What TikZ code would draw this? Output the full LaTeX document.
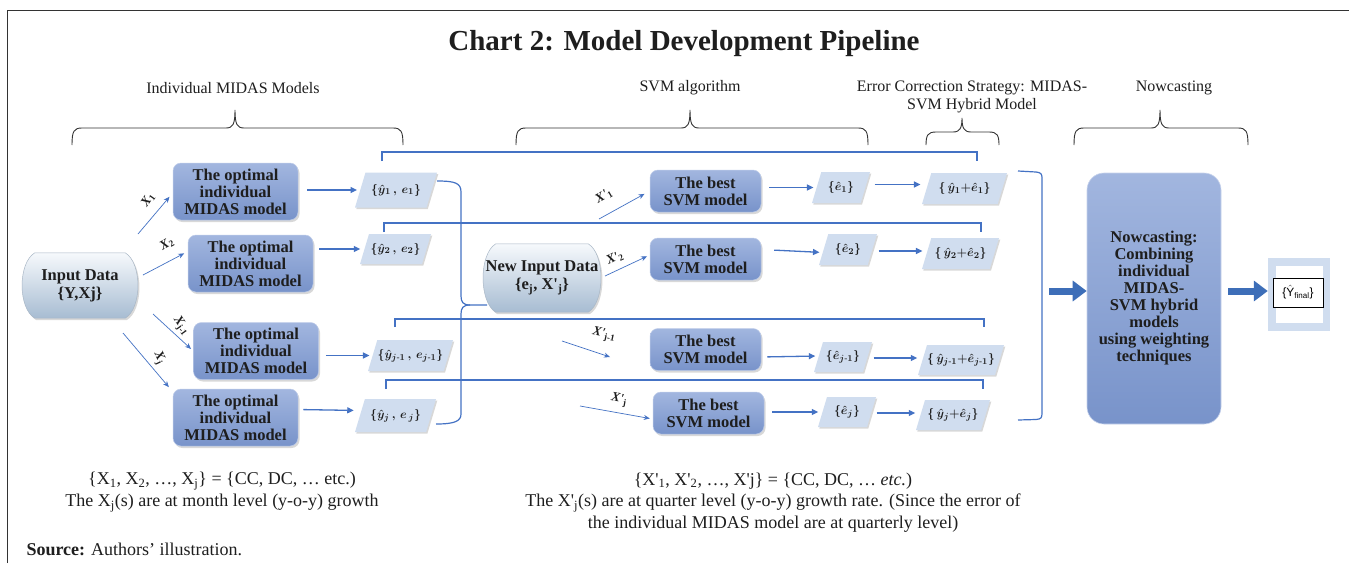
\documentclass[tikz,border=0pt]{standalone}
\usepackage{fontspec}
\setmainfont{Liberation Serif}
\setsansfont{Liberation Sans}
\usepackage{amsmath}
\usetikzlibrary{shadows,arrows.meta,calc,backgrounds}
\definecolor{lnblue}{HTML}{4472C4}
\definecolor{arrblue}{HTML}{3D6EB8}
\definecolor{paracol}{HTML}{D0DDEF}
\definecolor{boxtop}{HTML}{A2B6DF}
\definecolor{boxbot}{HTML}{7893CA}
\definecolor{txtc}{HTML}{1E1E1E}
\definecolor{framec}{HTML}{333333}
\definecolor{inptop}{HTML}{F6F9FC}
\definecolor{inpmid}{HTML}{D3E0EC}
\definecolor{inpbot}{HTML}{A7BCD2}
\definecolor{inpedge}{HTML}{A9B7C6}
\newcommand\sq{\textquotesingle}
\newcommand\topbrace[6]{%
 \draw[bracec] (#1,#6) .. controls (#1,#5+3) and (#1+2,#5) .. (#1+10,#5) -- (#2-9,#5)
   .. controls (#2-2,#5) and (#2,#5-4) .. (#2,#4)
   .. controls (#2,#5-4) and (#2+2,#5) .. (#2+9,#5) -- (#3-10,#5)
   .. controls (#3-2,#5) and (#3,#5+3) .. (#3,#6);}
\newcommand\barrelshape[1]{%
 \begin{scope}[on background layer]
 \path[draw=inpedge, line width=0.5pt, top color=inptop, middle color=inpmid, bottom color=inpbot,
   drop shadow={opacity=0.3, shadow xshift=1.5pt, shadow yshift=-2pt}]
   ($(#1.north west)+(13,0)$) -- ($(#1.north east)+(-13,0)$)
   .. controls ($(#1.north east)+(4,10)$) and ($(#1.south east)+(4,-10)$) .. ($(#1.south east)+(-13,0)$)
   -- ($(#1.south west)+(13,0)$)
   .. controls ($(#1.south west)+(-4,-10)$) and ($(#1.north west)+(-4,10)$) .. cycle;
 \end{scope}}
% parallelogram: name, x, y, total width, height, text
\newcommand\pgram[6]{%
 \pgfmathsetmacro\pgs{0.3*#5}%
 \fill[paracol, drop shadow={opacity=0.3, shadow xshift=1.3pt, shadow yshift=-1.6pt}]
   (#2-#4/2,#3+#5/2) -- (#2+#4/2-\pgs,#3+#5/2) -- (#2+#4/2,#3-#5/2) -- (#2-#4/2+\pgs,#3-#5/2) -- cycle;
 \node[pgtext, minimum width=#4pt-\pgs pt, minimum height=#5pt] (#1) at (#2,#3) {\begingroup\boldmath$#6$\endgroup};}
\begin{document}
\begin{tikzpicture}[x=1pt,y=-1pt,
  bracec/.style={draw=framec, line width=0.9pt},
  midas/.style={rounded corners=8pt, top color=boxtop, bottom color=boxbot, draw=boxtop!70!white,
    line width=0.5pt, minimum width=125pt, minimum height=57pt, inner sep=0pt, align=center,
    font=\bfseries\fontsize{16.5}{17}\selectfont, text=txtc,
    drop shadow={opacity=0.3, shadow xshift=1.5pt, shadow yshift=-2pt}},
  svmbox/.style={midas, minimum width=111pt, minimum height=42pt},
  pgtext/.style={inner sep=0pt, text=txtc, font=\fontsize{13}{14}\selectfont},
  thinarr/.style={draw=lnblue, line width=0.7pt, -{Stealth[length=6pt,width=5pt]}},
  medarr/.style={draw=lnblue, line width=1.3pt, -{Triangle[length=6.5pt,width=6pt]}},
  bigarr/.style={draw=arrblue, line width=7pt, -{Triangle[length=14pt,width=20pt]}},
  conn/.style={draw=lnblue, line width=1.2pt},
  xlab/.style={font=\bfseries\itshape\fontsize{13}{14}\selectfont, text=txtc},
  head/.style={font=\fontsize{16}{19}\selectfont, text=txtc, align=center},
  note/.style={font=\fontsize{18}{20}\selectfont, text=txtc}
]
\useasboundingbox (0,0) rectangle (1349,563);
\begin{scope}[on background layer]
\fill[white] (0,0) rectangle (1349,563);
\end{scope}
\draw[framec, line width=1pt] (7,563) -- (7,10) -- (1349,10);

% title and section heads
\node[font=\bfseries\fontsize{29}{32}\selectfont, text=txtc] (title) at (684,44) {Chart 2: Model Development Pipeline};
\node[head] (h1) at (233,88) {Individual MIDAS Models};
\node[head] (h2) at (690,88) {SVM algorithm};
\node[head, font=\fontsize{16}{18.5}\selectfont] (h3) at (972,97) {Error Correction Strategy: MIDAS-\\SVM Hybrid Model};
\node[head] (h4) at (1174,88) {Nowcasting};
\topbrace{72}{235}{403}{110}{128}{145}
\topbrace{516}{690}{868}{110}{128}{145}
\topbrace{926}{962}{999}{118}{132}{145}
\topbrace{1074}{1160}{1248}{110}{128}{145}

% input data
\node[font=\bfseries\fontsize{16.5}{18}\selectfont, text=txtc, align=center, minimum width=116pt, minimum height=65pt, inner sep=0pt] (inp) at (80,285.5) {Input Data\\\{Y,Xj\}};
\barrelshape{inp}

% MIDAS boxes
\node[midas] (m1) at (235.5,191.5) {The optimal\\individual\\MIDAS model};
\node[midas] (m2) at (250.5,263.5) {The optimal\\individual\\MIDAS model};
\node[midas] (m3) at (256,351) {The optimal\\individual\\MIDAS model};
\node[midas] (m4) at (235.5,417.5) {The optimal\\individual\\MIDAS model};

% input arrows
\coordinate (a1s) at (138,234);
\coordinate (a2s) at (143,275);
\coordinate (a3s) at (153,314);
\coordinate (a4s) at (123,333);
\draw[thinarr, shorten >=5pt] (a1s) -- ([yshift=-1.5pt]m1.west);
\draw[thinarr, shorten >=4pt] (a2s) -- ([yshift=12pt]m2.west);
\draw[thinarr, shorten >=3pt] (a3s) -- (m3.west);
\draw[thinarr, shorten >=6pt] (a4s) -- ([yshift=-3pt]m4.north west);
\node[xlab, rotate=55] (lx1) at (148,200) {X$_{\mathbf 1}$};
\node[xlab, rotate=30] (lx2) at (167,244) {X$_{\mathbf 2}$};
\node[xlab, rotate=-55] (lx3) at (181,326) {X$_{\mathbf{j\text{-}1}}$};
\node[xlab, rotate=-65] (lx4) at (159,358) {X$_{\mathbf j}$};

% MIDAS outputs
\pgram{p1}{396}{190}{82}{35}{\{\hat{y}_1\,,\,e_1\}}
\pgram{p2}{395.5}{249}{71}{30}{\{\hat{y}_2\,,\,e_2\}}
\pgram{p3}{410.5}{355.5}{85}{31}{\{\hat{y}_{j\text{-}1}\,,\,e_{j\text{-}1}\}}
\pgram{p4}{395.5}{415.5}{81}{33}{\{\hat{y}_j\,,\,e_{\,j}\}}
\draw[medarr, shorten <=9pt, shorten >=3pt] (m1.east |- p1.west) -- (p1.west);
\draw[medarr, shorten <=6pt, shorten >=4pt] (m2.east |- p2.west) -- (p2.west);
\draw[medarr, shorten <=7pt, shorten >=3pt] (m3.east |- p3.west) -- (p3.west);
\draw[medarr, shorten <=5pt, shorten >=6pt] ([yshift=8pt]m4.east) -- ([yshift=5pt]p4.west);

% new input data
\node[font=\bfseries\fontsize{16.5}{18}\selectfont, text=txtc, align=center, minimum width=118pt, minimum height=68pt, inner sep=0pt] (nid) at (542,278) {New Input Data\\\{e\textsubscript{j}, X\sq\textsubscript{j}\}};
\barrelshape{nid}

% brace collecting errors
\coordinate (bp1) at (437,181);
\coordinate (bp4) at (436,424);
\coordinate (btip) at (487,305);
\draw[conn] (bp1) .. controls (455,181) and (461,183) .. (461,192) -- (461,296)
  .. controls (461,302) and (463,305) .. (470,305) -- (btip);
\draw[conn] (470,305) .. controls (463,305) and (461,308) .. (461,314) -- (461,414)
  .. controls (461,421) and (455,424) .. (bp4);

% bypass lines from MIDAS outputs to hybrid sums
\coordinate (l1a) at (382,161); \coordinate (l1b) at (977,161);
\coordinate (l2a) at (384,232); \coordinate (l2b) at (981,232);
\coordinate (l3a) at (395,327); \coordinate (l3b) at (984,327);
\coordinate (l4a) at (386,389); \coordinate (l4b) at (983,389);
\draw[conn] (l1a) -- ++(0,-9) -| (l1b);
\draw[conn] (l2a) -- ++(0,-9) -| (l2b);
\draw[conn] (l3a) -- ++(0,-8) -| (l3b);
\draw[conn] (l4a) -- ++(0,-9) -| (l4b);

% SVM boxes
\node[svmbox] (s1) at (705.5,191) {The best\\SVM model};
\node[svmbox] (s2) at (705.5,259) {The best\\SVM model};
\node[svmbox] (s3) at (705.5,349.5) {The best\\SVM model};
\node[svmbox] (s4) at (708.5,413) {The best\\SVM model};

\coordinate (b1s) at (599,219);
\coordinate (b2s) at (605,276);
\coordinate (b3s) at (562,341);
\coordinate (b3e) at (610,357);
\coordinate (b4s) at (580,406);
\draw[thinarr, shorten >=6pt] (b1s) -- (s1.west);
\draw[thinarr, shorten >=3pt] (b2s) -- ([yshift=4pt]s2.west);
\draw[thinarr] (b3s) -- (b3e);
\draw[thinarr, shorten >=3pt] (b4s) -- ([yshift=-6pt]s4.west);
\node[xlab, rotate=30] (ly1) at (604,196) {X\sq$_{\mathbf 1}$};
\node[xlab, rotate=25] (ly2) at (615,258) {X\sq$_{\mathbf 2}$};
\node[xlab, rotate=-12] (ly3) at (604,335) {X\sq$_{\mathbf{j\text{-}1}}$};
\node[xlab, rotate=-10] (ly4) at (619,400) {X\sq$_{\mathbf j}$};

% error estimates
\pgram{e1}{841}{187.5}{58}{31}{\{\hat{e}_1\}}
\pgram{e2}{848}{249.5}{58}{31}{\{\hat{e}_2\}}
\pgram{e3}{843}{357}{58}{30}{\{\hat{e}_{j\text{-}1}\}}
\pgram{e4}{847}{412}{58}{30}{\{\hat{e}_j\}}
\draw[medarr, shorten <=8pt, shorten >=3pt] (s1.east |- e1.west) -- (e1.west);
\draw[medarr, shorten <=13pt, shorten >=4pt] (s2.east |- e2.west) -- ([yshift=-3pt]e2.west);
\draw[medarr, shorten <=6pt, shorten >=3pt] (s3.east |- e3.west) -- ([yshift=1pt]e3.west);
\draw[medarr, shorten <=8pt, shorten >=4pt] (s4.east |- e4.west) -- (e4.west);

% hybrid sums
\pgram{t1}{964.5}{188.5}{85}{31}{\{\,\hat{y}_1{+}\hat{e}_1\}}
\pgram{t2}{960.5}{253.5}{77}{31}{\{\,\hat{y}_2{+}\hat{e}_2\}}
\pgram{t3}{961}{360}{86}{30}{\{\,\hat{y}_{j\text{-}1}{+}\hat{e}_{j\text{-}1}\}}
\pgram{t4}{953}{415}{74}{30}{\{\,\hat{y}_j{+}\hat{e}_j\}}
\draw[medarr, shorten <=9pt, shorten >=6pt] ([yshift=3pt]e1.east) -- ([yshift=3pt]e1.east -| t1.west);
\draw[medarr, shorten <=6pt, shorten >=4pt] ([yshift=-1.5pt]e2.east) -- ([yshift=-1.5pt]e2.east -| t2.west);
\draw[medarr, shorten <=6pt, shorten >=5pt] ([yshift=-1pt]e3.east) -- ([yshift=-1pt]e3.east -| t3.west);
\draw[medarr, shorten <=5pt, shorten >=5pt] ([yshift=-1pt]e4.east) -- ([yshift=-1pt]e4.east -| t4.west);

% right bracket
\coordinate (rb1) at (1018,171);
\coordinate (rb2) at (1018,420);
\draw[conn] (rb1) -- (1036,172) .. controls (1041,172.5) and (1042,174) .. (1042,178) -- (1042,413)
  .. controls (1042,418) and (1041,419) .. (1036,419.5) -- (rb2);

% nowcasting
\node[rounded corners=17pt, top color=boxtop, bottom color=boxbot, draw=boxtop!60!white, line width=0.6pt,
  minimum width=134pt, minimum height=251pt, align=center, text=txtc,
  font=\bfseries\fontsize{16.5}{17}\selectfont] (nc) at (1154,298.5)
  {Nowcasting:\\Combining\\individual\\MIDAS-\\SVM hybrid\\models\\using weighting\\techniques};
\coordinate (ba1) at (1049,291);
\draw[bigarr] (ba1) -- (ba1 -| nc.west);

% final output
\node[fill=paracol, minimum width=62pt, minimum height=73pt, inner sep=0pt] (outf) at (1299,294.5) {};
\node[fill=white, minimum width=47pt, minimum height=57pt, inner sep=0pt] (outw) at (1299.5,294.5) {};
\node[draw=black, fill=white, line width=0.8pt, minimum width=50pt, minimum height=29pt, inner sep=0pt,
  font=\sffamily\fontsize{12}{14}\selectfont] (out) at (1298,292.5) {\{$\hat{\mathsf{Y}}$\textsubscript{final}\}};
\draw[bigarr] ([xshift=7pt]nc.east |- ba1) -- (ba1 -| outf.west);

% notes
\node[note] (n1) at (222,481) {\{X\textsubscript{1}, X\textsubscript{2}, …, X\textsubscript{j}\} = \{CC, DC, … etc.)};
\node[note] (n2) at (222,503) {The X\textsubscript{j}(s) are at month level (y-o-y) growth};
\node[note] (n3) at (773,481) {\{X\sq\textsubscript{1}, X\sq\textsubscript{2}, …, X\sq j\} = \{CC, DC, … \textit{etc.})};
\node[note] (n4) at (773,503) {The X\sq\textsubscript{j}(s) are at quarter level (y-o-y) growth rate. (Since the error of};
\node[note] (n5) at (773,524) {the individual MIDAS model are at quarterly level)};
\node[note, anchor=west] (src) at (23,549) {\textbf{Source:} Authors’ illustration.};
\end{tikzpicture}
\end{document}
